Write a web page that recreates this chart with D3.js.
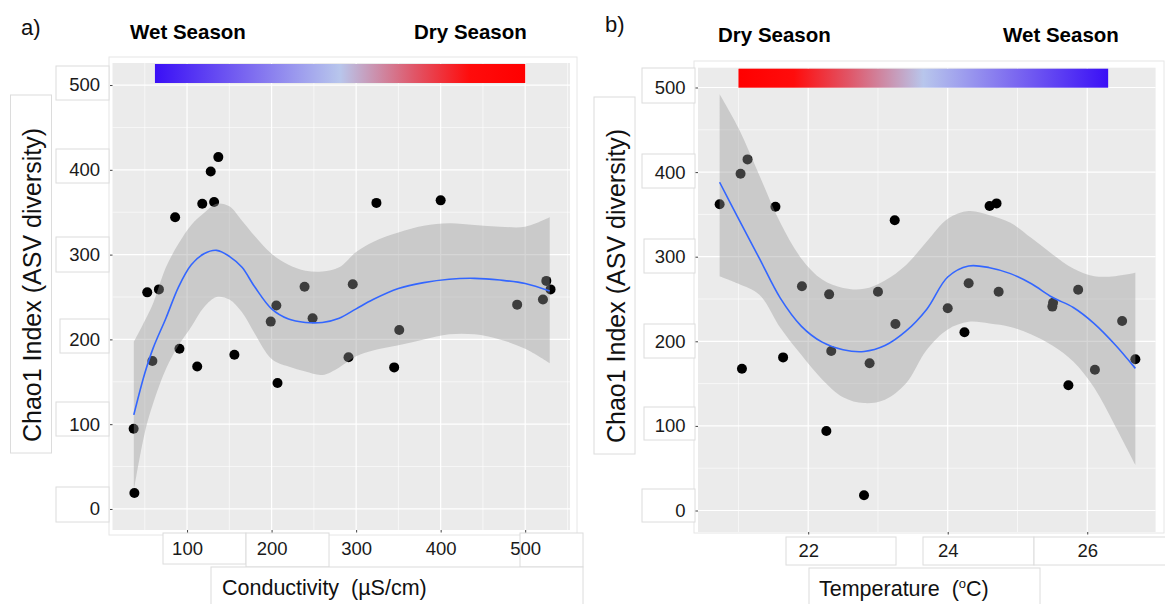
<!DOCTYPE html>
<html>
<head>
<meta charset="utf-8">
<script src="https://cdn.jsdelivr.net/npm/d3@7"></script>
<style>
  body { margin: 0; background: #fff; }
  svg { display: block; font-family: "Liberation Sans", Arial, sans-serif; }
</style>
</head>
<body>
<div id="container"></div>
<script>
// points: conductivity panel
const condX = [36.8, 37.7, 52.9, 59, 66.7, 85.9, 91, 112, 118, 128, 132, 137, 156, 199, 205.6, 207, 239, 248.5, 291, 296, 324, 345, 351, 400, 490.5, 521, 525, 530];
const condY = [94.7, 18.9, 255.5, 174.5, 259, 344, 189, 168, 360, 398, 362, 415, 182, 221, 240, 148.6, 262, 225, 179, 265, 361, 167, 211, 364, 241, 247, 269, 259];

// points: temperature panel
const tempX = [20.73, 21.03, 21.05, 21.13, 21.53, 21.64, 21.91, 22.26, 22.3, 22.33, 22.8, 22.88, 23.0, 23.24, 23.25, 24.0, 24.24, 24.3, 24.6, 24.7, 24.73, 25.5, 25.51, 25.73, 25.87, 26.11, 26.5, 26.69];
const tempY = [362, 398, 167.6, 415, 359, 181, 265, 94, 255.5, 188.5, 18, 174, 258.6, 343, 220.4, 239, 210.6, 268.6, 360, 363, 258.6, 241, 245.6, 148, 261, 166.4, 224, 178.7];

// loess fit + 95% band
const condSmoothX = [37, 50, 60, 75, 90, 105, 120, 135, 150, 165, 180, 200, 220, 240, 260, 280, 300, 320, 350, 380, 410, 440, 470, 500, 529];
const condFit = [111, 160, 190, 225, 262, 288, 301, 305, 298, 285, 262, 236, 224, 220, 220, 225, 236, 247, 260, 267, 271, 272, 270, 266, 257];
const condLo = [22, 90, 125, 165, 193, 215, 238, 250, 247, 232, 207, 177, 168, 162, 158, 167, 180, 187, 193, 200, 206, 206, 200, 189, 172];
const condHi = [197, 222, 243, 285, 313, 335, 349, 360, 357, 340, 322, 301, 288, 281, 280, 285, 303, 315, 326, 334, 337, 335, 333, 333, 344];

const tempSmoothX = [20.73, 21.0, 21.3, 21.6, 21.9, 22.2, 22.5, 22.8, 23.1, 23.4, 23.7, 24.0, 24.3, 24.6, 24.9, 25.2, 25.5, 25.8, 26.1, 26.4, 26.69];
const tempFit = [388, 345, 298, 251, 218, 199, 190, 188, 195, 212, 238, 276, 289, 287, 280, 268, 252, 240, 221, 196, 168];
const tempLo = [277, 268, 255, 216, 184, 155, 134, 127, 131, 150, 190, 214, 223, 221, 217, 208, 195, 176, 145, 100, 54];
const tempHi = [492, 452, 396, 340, 298, 273, 263, 262, 272, 290, 318, 345, 354, 349, 340, 322, 303, 286, 277, 277, 281];

const yTicks = [0, 100, 200, 300, 400, 500];
const condTicks = [100, 200, 300, 400, 500];
const tempTicks = [22, 24, 26];

const W = 1165, H = 604;
const svg = d3.select("#container").append("svg")
    .attr("width", W).attr("height", H);

const defs = svg.append("defs");
function gradient(id, stops) {
    const g = defs.append("linearGradient").attr("id", id);
    stops.forEach(s => g.append("stop").attr("offset", s[0]).attr("stop-color", s[1]));
}
gradient("wetdry", [[0, "#3a0ff6"], [0.25, "#7b68f0"], [0.5, "#b8c6ec"], [0.7, "#e05668"], [0.85, "#ff0c0c"], [1, "#ff0000"]]);
gradient("drywet", [[0, "#ff0000"], [0.15, "#ff0c0c"], [0.3, "#e05668"], [0.5, "#b8c6ec"], [0.75, "#7b68f0"], [1, "#3a0ff6"]]);

// pasted-in label boxes (white with faint border)
function box(x, y, w, h) {
    svg.append("rect").attr("x", x).attr("y", y).attr("width", w).attr("height", h)
        .attr("fill", "#fff").attr("stroke", "#dcdcdc").attr("stroke-width", 1);
}

function panel(p) {
    const x = d3.scaleLinear().domain(p.xDomain).range([p.left, p.right]);
    const y = d3.scaleLinear().domain(p.yDomain).range([p.bottom, p.top]);

    // outer frame
    svg.append("rect").attr("x", p.frame[0]).attr("y", p.frame[1])
        .attr("width", p.frame[2]).attr("height", p.frame[3])
        .attr("fill", "#fff").attr("stroke", "#e6e6e6");

    p.boxes.forEach(b => box(...b));

    const g = svg.append("g");
    g.append("rect").attr("x", p.left).attr("y", p.top)
        .attr("width", p.right - p.left).attr("height", p.bottom - p.top)
        .attr("fill", "#ebebeb");

    // grid
    const minorY = d3.range(-50, 551, 100).filter(v => v > p.yDomain[0] && v < p.yDomain[1]);
    g.selectAll(".my").data(minorY).join("line")
        .attr("x1", p.left).attr("x2", p.right)
        .attr("y1", d => y(d)).attr("y2", d => y(d))
        .attr("stroke", "#fff").attr("stroke-width", 0.6);
    g.selectAll(".mx").data(p.minorX).join("line")
        .attr("y1", p.top).attr("y2", p.bottom)
        .attr("x1", d => x(d)).attr("x2", d => x(d))
        .attr("stroke", "#fff").attr("stroke-width", 0.6);
    g.selectAll(".gy").data(yTicks).join("line")
        .attr("x1", p.left).attr("x2", p.right)
        .attr("y1", d => y(d)).attr("y2", d => y(d))
        .attr("stroke", "#fff").attr("stroke-width", 1.2);
    g.selectAll(".gx").data(p.ticks).join("line")
        .attr("y1", p.top).attr("y2", p.bottom)
        .attr("x1", d => x(d)).attr("x2", d => x(d))
        .attr("stroke", "#fff").attr("stroke-width", 1.2);

    // season colour bar
    g.append("rect")
        .attr("x", x(p.bar[0])).attr("y", p.top + 1)
        .attr("width", x(p.bar[1]) - x(p.bar[0])).attr("height", 19)
        .attr("fill", `url(#${p.grad})`);

    // points, then band (band tints points under it), then fit
    g.selectAll("circle").data(p.px.map((v, i) => [v, p.py[i]])).join("circle")
        .attr("cx", d => x(d[0])).attr("cy", d => y(d[1])).attr("r", 5)
        .attr("fill", "#000");

    const sm = p.sx.map((v, i) => ({x: v, f: p.fit[i], lo: p.lo[i], hi: p.hi[i]}));
    g.append("path").datum(sm)
        .attr("d", d3.area().curve(d3.curveCatmullRom)
            .x(d => x(d.x)).y0(d => y(d.lo)).y1(d => y(d.hi)))
        .attr("fill", "#999").attr("fill-opacity", 0.4);
    g.append("path").datum(sm)
        .attr("d", d3.line().curve(d3.curveCatmullRom).x(d => x(d.x)).y(d => y(d.f)))
        .attr("fill", "none").attr("stroke", "#3366ff").attr("stroke-width", 1.6);

    // axes
    const ay = svg.append("g").attr("transform", `translate(${p.left},0)`)
        .call(d3.axisLeft(y).tickValues(yTicks).tickSize(2.5).tickPadding(10));
    const ax = svg.append("g").attr("transform", `translate(0,${p.bottom})`)
        .call(d3.axisBottom(x).tickValues(p.ticks).tickFormat(d3.format("d"))
            .tickSize(2.5).tickPadding(9));
    [ax, ay].forEach(a => {
        a.select(".domain").remove();
        a.selectAll(".tick line").attr("stroke", "#444");
        a.selectAll("text").attr("font-size", 18.5).attr("fill", "#1a1a1a")
            .attr("font-family", "Liberation Sans, Arial, sans-serif");
    });

    // titles
    const xt = svg.append("text").attr("x", p.xTitle[0]).attr("y", p.xTitle[1])
        .attr("font-size", 21.5).attr("fill", "#111")
        .attr("style", "white-space: pre");
    p.xLabel.forEach(part => {
        const t = xt.append("tspan").text(part[0]);
        if (part[1]) t.attr("font-size", 13).attr("dy", -8);
        else if (part[2]) t.attr("dy", 8);
    });
    svg.append("text")
        .attr("transform", `translate(${p.yTitle[0]},${p.yTitle[1]}) rotate(-90)`)
        .attr("text-anchor", "middle").attr("font-size", 25).attr("fill", "#111")
        .text("Chao1 Index (ASV diversity)");
    svg.append("text").attr("x", p.tag[0]).attr("y", p.tag[1])
        .attr("font-size", 22).attr("fill", "#111").text(p.tagText);
    p.seasons.forEach(s => svg.append("text").attr("x", s[1]).attr("y", s[2])
        .attr("font-size", 20.5).attr("font-weight", "bold").attr("fill", "#000").text(s[0]));
}

panel({
    left: 112.5, right: 570, top: 63, bottom: 530,
    xDomain: [11.8, 553], yDomain: [-24.8, 526],
    ticks: condTicks, minorX: [50, 150, 250, 350, 450, 550],
    px: condX, py: condY, sx: condSmoothX, fit: condFit, lo: condLo, hi: condHi,
    bar: [62, 500], grad: "wetdry",
    frame: [109, 57, 468, 478],
    boxes: [[56, 66, 53, 34], [56, 149, 53, 34], [56, 237, 53, 35], [60, 319, 49, 34],
            [56, 402, 53, 34], [56, 487, 53, 35], [10.5, 95, 41, 358],
            [163, 533, 83, 31], [246, 533, 83, 34], [520, 533, 63, 34], [211, 567, 372, 40]],
    xLabel: [["Conductivity  (µS/cm)"]], xTitle: [222, 595],
    yTitle: [41, 285], tag: [21, 35], tagText: "a)",
    seasons: [["Wet Season", 130, 39], ["Dry Season", 414, 39]]
});

panel({
    left: 698, right: 1155.6, top: 67.7, bottom: 532,
    xDomain: [20.42, 26.98], yDomain: [-25.4, 523.4],
    ticks: tempTicks, minorX: [21, 23, 25],
    px: tempX, py: tempY, sx: tempSmoothX, fit: tempFit, lo: tempLo, hi: tempHi,
    bar: [21.0, 26.3], grad: "drywet",
    frame: [694, 61, 470, 472],
    boxes: [[642, 68, 53, 35], [642, 154, 53, 34], [644, 239, 51, 34], [644, 324, 51, 34],
            [644, 407, 51, 33], [642, 489, 53, 33], [594, 97, 41, 357],
            [786, 537, 110, 28], [923, 537, 111, 28], [1034, 537, 133, 28], [809, 568, 231, 40]],
    xLabel: [["Temperature  ("], ["o", true], ["C)", false, true]], xTitle: [819, 596],
    yTitle: [625, 286], tag: [605, 32], tagText: "b)",
    seasons: [["Dry Season", 718, 42], ["Wet Season", 1003, 42]]
});
</script>
</body>
</html>
